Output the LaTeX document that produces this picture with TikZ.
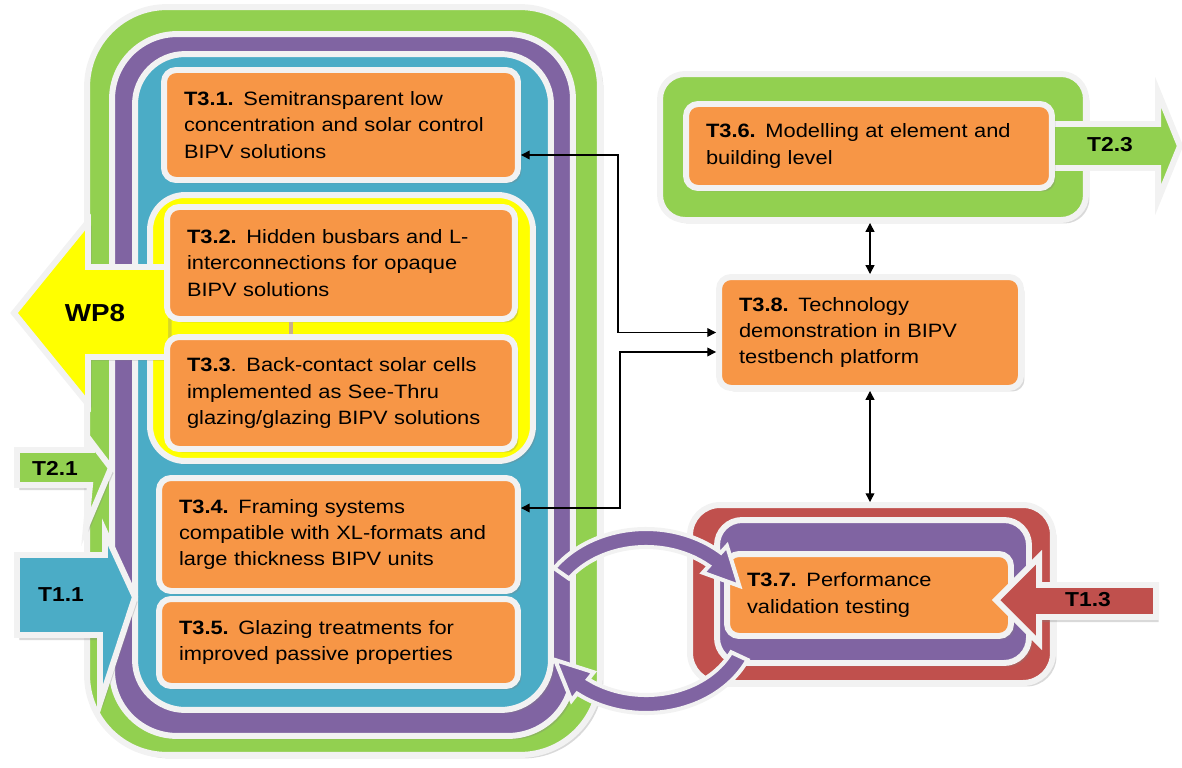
\documentclass[tikz,border=0pt]{standalone}
\usepackage{fontspec}
\setmainfont{Liberation Sans}[FakeStretch=1.13]
\usetikzlibrary{arrows.meta,shadows}

\definecolor{cgreen}{HTML}{92D050}
\definecolor{cpurple}{HTML}{8064A2}
\definecolor{cblue}{HTML}{4BACC6}
\definecolor{corange}{HTML}{F79646}
\definecolor{cred}{HTML}{C0504D}
\definecolor{cyellow}{HTML}{FFFF00}
\definecolor{cedge}{HTML}{F2F2F2}
\definecolor{cstub}{HTML}{C9AE8C}

\tikzset{
    frame/.style={draw=cedge, line width=3.4pt,
            drop shadow={shadow xshift=0.07cm, shadow yshift=-0.07cm, opacity=0.3}},
    task/.style={frame, fill=corange, rounded corners=0.24cm, align=left,
            inner sep=0pt, font=\fontsize{11}{15}\selectfont},
    bigarrow/.style={draw=cedge, line width=3.4pt, line join=miter},
    tag/.style={font=\fontsize{11.5}{13}\selectfont\bfseries},
    link/.style={line width=0.75pt,
            {Triangle[length=5pt,width=5pt]}-{Triangle[length=5pt,width=5pt]}},
}

\begin{document}
\begin{tikzpicture}[x=0.02cm, y=-0.02cm]
        \useasboundingbox (0,0) rectangle (1182,767);

        % WP3 block on the left
        \foreach \name/\col/\cx/\cy/\w/\h/\r in {outerG/cgreen/343.5/381/10.26/14.96/1.6,
                midP/cpurple/342.5/385/9.22/14.04/1.3, innerB/cblue/343/382/8.32/13.12/1.0}{
                \node[frame, fill=\col, rounded corners=\r cm, minimum width=\w cm,
                    minimum height=\h cm] (\name) at (\cx,\cy) {};
            }
        \node[frame, fill=cyellow, rounded corners=0.7cm, minimum width=7.66cm,
            minimum height=5.32cm] (wp8grp) at (341.5,328) {};

        \node[task, minimum width=7.08cm, minimum height=2.2cm, text width=6.28cm] (t31) at (341,125)
            {\textbf{T3.1.} Semitransparent low\\concentration and solar control\\BIPV solutions};

        % WP8 arrow
        \fill[cyellow, drop shadow={shadow xshift=0.07cm, shadow yshift=-0.07cm, opacity=0.3}]
            (168,267) -- (88,267) -- (88,222) -- (14,313) -- (88,404) -- (88,357) -- (168,357) -- cycle;
        \draw[bigarrow] (168,267) -- (88,267) -- (88,222) -- (14,313) -- (88,404) -- (88,357) -- (168,357);
        \node[tag, font=\fontsize{14}{16}\selectfont\bfseries] (wp8) at (95,313) {WP8};

        \node[task, minimum width=6.96cm, minimum height=2.24cm, text width=6.16cm] (t32) at (341,263)
            {\textbf{T3.2.} Hidden busbars and L-\\interconnections for opaque\\BIPV solutions};
        \node[task, minimum width=6.96cm, minimum height=2.24cm, text width=6.16cm] (t33) at (341,393)
            {\textbf{T3.3}. Back-contact solar cells\\implemented as See-Thru\\glazing/glazing BIPV solutions};
        \draw[cstub, line width=2pt] ([xshift=-1cm]t32.south) -- ([xshift=-1cm]t33.north);
        \node[task, minimum width=7.18cm, minimum height=2.26cm, text width=6.38cm] (t34) at (338.5,534.5)
            {\textbf{T3.4.} Framing systems\\compatible with XL-formats and\\large thickness BIPV units};
        \node[task, minimum width=7.18cm, minimum height=1.74cm, text width=6.38cm] (t35) at (338.5,642.5)
            {\textbf{T3.5.} Glazing treatments for\\improved passive properties};

        % input arrows
        \draw[bigarrow, fill=cgreen, drop shadow={shadow xshift=0.05cm, shadow yshift=-0.1cm, opacity=0.3}]
            (17,450) -- (92,450) -- (92,443) -- (111,468) -- (86,527) -- (90,485) -- (17,485) -- cycle;
        \node[tag] (t21) at (55,468) {T2.1};
        \draw[bigarrow, fill=cblue, drop shadow={shadow xshift=0.05cm, shadow yshift=-0.1cm, opacity=0.3}]
            (17,555) -- (105,555) -- (105,532) -- (135,597) -- (100,703) -- (100,635) -- (17,635) -- cycle;
        \node[tag] (t11) at (61,595) {T1.1};

        % right column
        \node[frame, fill=cgreen, rounded corners=0.5cm, minimum width=8.52cm,
            minimum height=2.92cm] (g36) at (873,147) {};
        \draw[bigarrow, fill=cgreen]
            (1030,124) -- (1158,124) -- (1158,92) -- (1180,146) -- (1158,200) -- (1158,168) -- (1030,168) -- cycle;
        \node[tag] (t23) at (1110,145) {T2.3};
        \node[task, minimum width=7.32cm, minimum height=1.68cm, text width=6.52cm] (t36) at (869,146)
            {\textbf{T3.6.} Modelling at element and\\building level};

        \node[task, minimum width=6.04cm, minimum height=2.22cm, text width=5.24cm] (t38) at (870,332.5)
            {\textbf{T3.8.} Technology\\demonstration in BIPV\\testbench platform};

        \node[frame, fill=cred, rounded corners=0.6cm, minimum width=7.26cm,
            minimum height=3.56cm] (g37) at (871.5,594) {};
        \node[frame, fill=cpurple, rounded corners=0.5cm, minimum width=6.24cm,
            minimum height=2.86cm] (p37) at (873,591.5) {};
        \node[task, minimum width=5.68cm, minimum height=1.64cm, text width=4.88cm] (t37) at (869,595)
            {\textbf{T3.7.} Performance\\validation testing};

        \draw[bigarrow, fill=cred, drop shadow={shadow xshift=0.05cm, shadow yshift=-0.1cm, opacity=0.3}]
            (1156,585) -- (1039,585) -- (1039,557) -- (996,600) -- (1039,643) -- (1039,617) -- (1156,617) -- cycle;
        \node[tag] (t13) at (1088,600) {T1.3};

        % circular arrows between the blocks
        \begin{scope}[shift={(646,621)}]
                \draw[bigarrow, line width=2.3pt, fill=cpurple]
                    (215:112 and 92) arc[start angle=215, end angle=312, x radius=112, y radius=92]
                    -- (312:121 and 101) -- (335:103 and 83) -- (312:85 and 65) -- (312:94 and 74)
                    arc[start angle=312, end angle=215, x radius=94, y radius=74] -- cycle;
                \draw[bigarrow, line width=2.3pt, fill=cpurple]
                    (25:112 and 92) arc[start angle=25, end angle=128, x radius=112, y radius=92]
                    -- (128:121 and 101) -- (152:103 and 83) -- (128:85 and 65) -- (128:94 and 74)
                    arc[start angle=128, end angle=25, x radius=94, y radius=74] -- cycle;
        \end{scope}

        % connectors
        \coordinate (bus1) at (618,0);
        \coordinate (bus2) at (620,0);
        \coordinate (e31) at ([yshift=-0.6cm]t31.east);
        \coordinate (e34) at ([yshift=0.53cm]t34.east);
        \coordinate (w38a) at (t38.west);
        \coordinate (w38b) at ([yshift=-0.39cm]t38.west);
        \draw[link] (e31) -| (bus1 |- w38a) -- (w38a);
        \draw[link] (e34) -| (bus2 |- w38b) -- (w38b);
        \draw[link] (t38.north |- g36.south) -- (t38.north);
        \draw[link] (t38.south) -- (t38.south |- g37.north);

    \end{tikzpicture}
\end{document}
